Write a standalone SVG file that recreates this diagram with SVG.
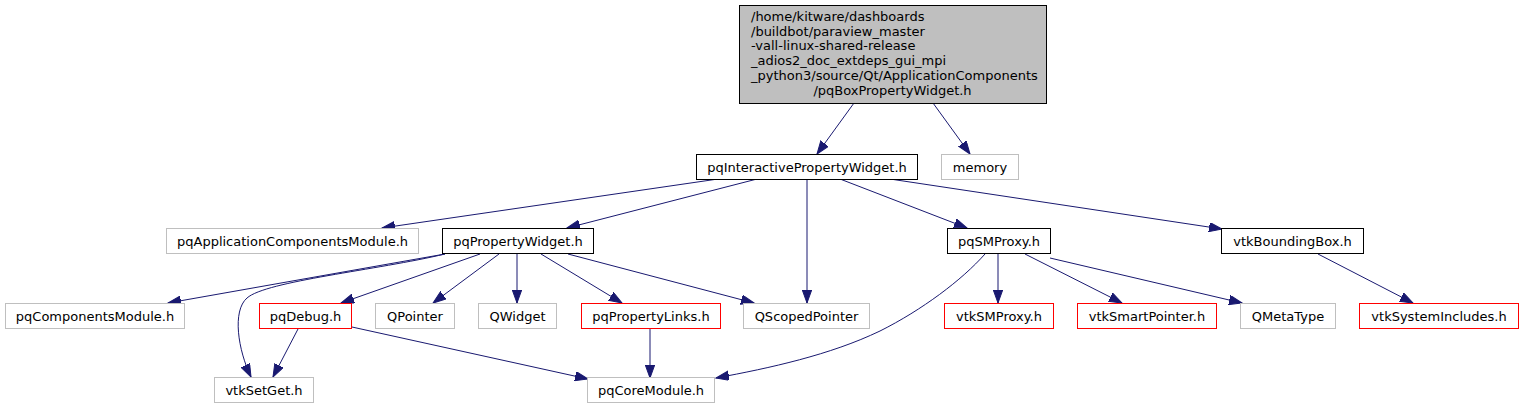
<svg xmlns="http://www.w3.org/2000/svg" width="1523" height="409" viewBox="0 0 1523 409">
<style>
text{font-family:"DejaVu Sans","Noto Sans",sans-serif;font-size:13px;fill:#000;}
.c{text-anchor:middle;}
.n rect{fill:#fff;stroke-width:1;}
.k rect{stroke:#000;}
.g rect{stroke:#bfbfbf;}
.r rect{stroke:#ff0000;}
#edges path{fill:none;stroke:#191970;stroke-width:1;marker-end:url(#ah);}
</style>
<defs>
<marker id="ah" markerUnits="userSpaceOnUse" markerWidth="14" markerHeight="10" refX="13" refY="4.7" orient="auto" viewBox="0 0 14 10">
<path d="M0,0 L13,4.7 L0,9.4 z" fill="#191970" stroke="#191970" stroke-width="1"/>
</marker>
</defs>
<rect width="1523" height="409" fill="#fff"/>
<g id="edges">
<path d="M854,103 L817,154"/>
<path d="M933,103 L970,154"/>
<path d="M718,179 L382,228"/>
<path d="M757,179 L567,228"/>
<path d="M807,179 L807,303"/>
<path d="M840,179 L967,228"/>
<path d="M890,179 L1222,229"/>
<path d="M445,254 L168,303"/>
<path d="M445,254 C378,270 266,281 247,298 C232,311 238,350 251,377"/>
<path d="M480,254 L341,303"/>
<path d="M499,254 L433,303"/>
<path d="M517,254 L517,303"/>
<path d="M541,254 L622,303"/>
<path d="M568,254 L754,303"/>
<path d="M298,329 L273,377"/>
<path d="M352,327 L588,379"/>
<path d="M650,329 L650,378"/>
<path d="M985,254 C962,280 922,310 880,331 C830,355 770,368 716,378"/>
<path d="M998,254 L998,303"/>
<path d="M1025,254 L1122,303"/>
<path d="M1050,258 L1242,303"/>
<path d="M1318,254 L1413,303"/>
</g>
<g id="root" class="n">
<rect x="739.5" y="5.5" width="307" height="98" style="fill:#bfbfbf;stroke:#000"/>
<text x="751" y="20.7">/home/kitware/dashboards</text>
<text x="751" y="35.6">/buildbot/paraview_master</text>
<text x="751" y="50.4">-vall-linux-shared-release</text>
<text x="751" y="65.3">_adios2_doc_extdeps_gui_mpi</text>
<text x="751" y="80.1">_python3/source/Qt/ApplicationComponents</text>
<text class="c" x="892.5" y="95">/pqBoxPropertyWidget.h</text>
</g>
<g id="pqInteractivePropertyWidget" class="n k">
<rect x="696.5" y="154.5" width="221" height="25"/>
<text class="c" x="807" y="171.5">pqInteractivePropertyWidget.h</text>
</g>
<g id="memory" class="n g">
<rect x="941.5" y="154.5" width="77" height="25"/>
<text class="c" x="980" y="171.5">memory</text>
</g>
<g id="pqApplicationComponentsModule" class="n g">
<rect x="166.5" y="228.5" width="252" height="25"/>
<text class="c" x="292.5" y="245.5">pqApplicationComponentsModule.h</text>
</g>
<g id="pqPropertyWidget" class="n k">
<rect x="442.5" y="228.5" width="151" height="25"/>
<text class="c" x="518" y="245.5">pqPropertyWidget.h</text>
</g>
<g id="pqSMProxy" class="n k">
<rect x="947.5" y="228.5" width="103" height="25"/>
<text class="c" x="999" y="245.5">pqSMProxy.h</text>
</g>
<g id="vtkBoundingBox" class="n k">
<rect x="1221.5" y="228.5" width="142" height="25"/>
<text class="c" x="1292.5" y="245.5">vtkBoundingBox.h</text>
</g>
<g id="pqComponentsModule" class="n g">
<rect x="5.5" y="303.5" width="179" height="25"/>
<text class="c" x="95" y="320.5">pqComponentsModule.h</text>
</g>
<g id="pqDebug" class="n r">
<rect x="259.5" y="303.5" width="92" height="25"/>
<text class="c" x="305.5" y="320.5">pqDebug.h</text>
</g>
<g id="QPointer" class="n g">
<rect x="375.5" y="303.5" width="79" height="25"/>
<text class="c" x="415" y="320.5">QPointer</text>
</g>
<g id="QWidget" class="n g">
<rect x="478.5" y="303.5" width="78" height="25"/>
<text class="c" x="517.5" y="320.5">QWidget</text>
</g>
<g id="pqPropertyLinks" class="n r">
<rect x="581.5" y="303.5" width="139" height="25"/>
<text class="c" x="651" y="320.5">pqPropertyLinks.h</text>
</g>
<g id="QScopedPointer" class="n g">
<rect x="743.5" y="303.5" width="126" height="25"/>
<text class="c" x="806.5" y="320.5">QScopedPointer</text>
</g>
<g id="vtkSMProxy" class="n r">
<rect x="944.5" y="303.5" width="109" height="25"/>
<text class="c" x="999" y="320.5">vtkSMProxy.h</text>
</g>
<g id="vtkSmartPointer" class="n r">
<rect x="1077.5" y="303.5" width="139" height="25"/>
<text class="c" x="1147" y="320.5">vtkSmartPointer.h</text>
</g>
<g id="QMetaType" class="n g">
<rect x="1240.5" y="303.5" width="95" height="25"/>
<text class="c" x="1288" y="320.5">QMetaType</text>
</g>
<g id="vtkSystemIncludes" class="n r">
<rect x="1359.5" y="303.5" width="159" height="25"/>
<text class="c" x="1439" y="320.5">vtkSystemIncludes.h</text>
</g>
<g id="vtkSetGet" class="n g">
<rect x="214.5" y="377.5" width="99" height="25"/>
<text class="c" x="264" y="394.5">vtkSetGet.h</text>
</g>
<g id="pqCoreModule" class="n g">
<rect x="587.5" y="377.5" width="127" height="25"/>
<text class="c" x="651" y="394.5">pqCoreModule.h</text>
</g>
</svg>
